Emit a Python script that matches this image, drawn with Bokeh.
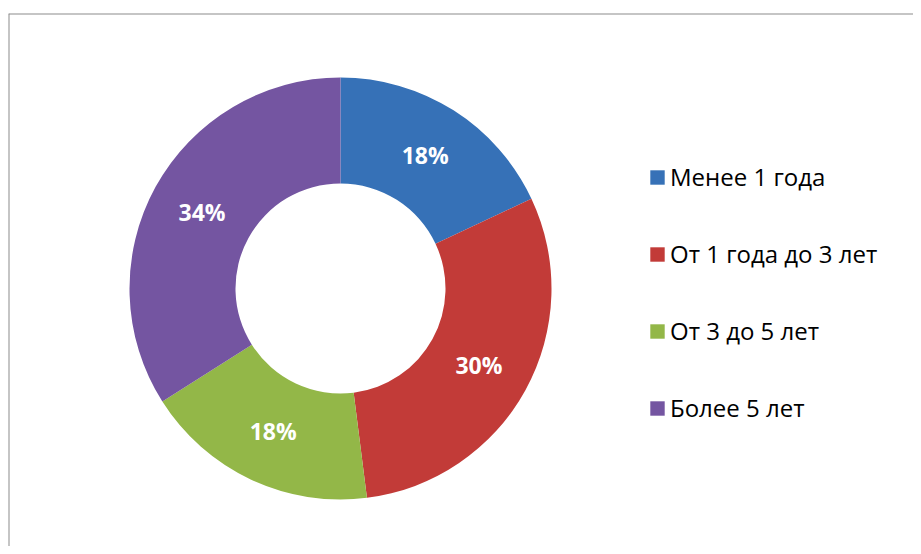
import math
from bokeh.plotting import figure
from bokeh.models import ColumnDataSource, Range1d, Legend, LegendItem, Span
from bokeh.core.properties import value
from bokeh.embed import file_html
from bokeh.resources import INLINE

categories = ["Менее 1 года", "От 1 года до 3 лет", "От 3 до 5 лет", "Более 5 лет"]
shares = [18, 30, 18, 34]
labels = ["18%", "30%", "18%", "34%"]
colors = ["#3671B7", "#C23B38", "#93B748", "#7455A1"]

W, H = 913, 546
LEFT, TOP = 8, 13
FW, FH = W - LEFT, H - TOP

# donut geometry (screen px inside frame)
cx, cy = 332, FH - 275
r_out, r_in = 211, 105
r_lab = 158

total = sum(shares)
starts, ends, lx, ly = [], [], [], []
acc = 0.0
for s in shares:
    a0 = math.pi / 2 - 2 * math.pi * acc / total
    acc += s
    a1 = math.pi / 2 - 2 * math.pi * acc / total
    starts.append(a0)
    ends.append(a1)
    mid = (a0 + a1) / 2
    lx.append(cx + r_lab * math.cos(mid))
    ly.append(cy + r_lab * math.sin(mid))

src = ColumnDataSource(dict(cat=categories, start=starts, end=ends, color=colors,
                            lx=lx, ly=ly, lab=labels))

p = figure(width=W, height=H, output_backend="svg", toolbar_location=None,
           x_range=Range1d(0, FW), y_range=Range1d(0, FH),
           min_border_left=LEFT, min_border_right=0, min_border_bottom=0, min_border_top=TOP)
p.axis.visible = False
p.grid.visible = False
p.outline_line_color = None
p.background_fill_color = "white"
p.border_fill_color = "white"

p.add_layout(Span(location=0, dimension="height", line_color="#8C8C8C", line_width=2))
p.add_layout(Span(location=FH, dimension="width", line_color="#8C8C8C", line_width=2))

wedges = p.annular_wedge(x=cx, y=cy, inner_radius=r_in, outer_radius=r_out,
                         start_angle="start", end_angle="end", direction="clock",
                         fill_color="color", line_color=None, source=src)

p.text(x="lx", y="ly", text="lab", source=src, text_color="white",
       text_font=value("Open Sans"), text_font_style="bold", text_font_size="23px",
       text_align="center", text_baseline="middle")

items = [LegendItem(label=c, renderers=[wedges], index=i) for i, c in enumerate(categories)]
legend = Legend(items=items, location=(640, 122), orientation="vertical",
                label_text_font="Open Sans", label_text_font_size="24px",
                label_text_color="#000000", glyph_width=18, glyph_height=18,
                label_standoff=4, spacing=44, padding=0, margin=0,
                border_line_color=None, background_fill_alpha=0)
p.add_layout(legend)

open("out.html", "w").write(file_html(p, INLINE))
